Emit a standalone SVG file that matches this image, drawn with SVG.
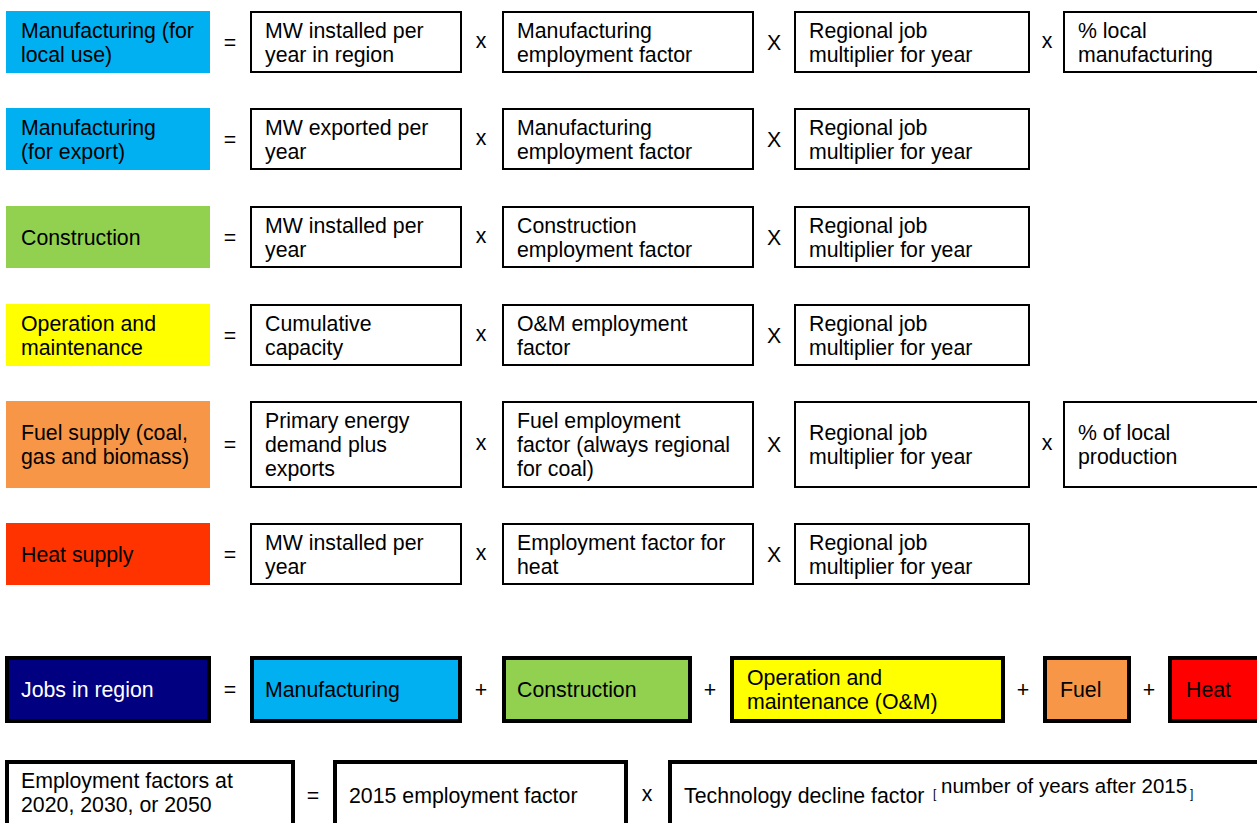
<svg xmlns="http://www.w3.org/2000/svg" width="1257" height="823" viewBox="0 0 1257 823">
  <style>
    .t { font-family: "Liberation Sans", Arial, sans-serif; font-size: 21.3px; fill: #000; }
    .w { fill: #fff; }
    .op { font-family: "Liberation Sans", Arial, sans-serif; font-size: 21.3px; fill: #000; text-anchor: middle; }
    .box { fill: #fff; stroke: #000; stroke-width: 2; }
    .bold { stroke: #000; stroke-width: 4; }
    .mfg { fill: #00B0F0; }
    .con { fill: #92D050; }
    .om { fill: #FFFF00; }
    .fuel { fill: #F79646; }
    .heatsup { fill: #FF3300; }
    .heat { fill: #FF0000; }
    .jobs { fill: #000080; }
  </style>
  <rect x="0" y="0" width="1257" height="823" fill="#fff"/>

  <!-- Row 1: manufacturing for local use -->
  <g id="mfg-local">
    <rect class="mfg" x="6" y="11" width="204" height="62"/>
    <text class="t"><tspan x="21" y="37.5">Manufacturing (for</tspan><tspan x="21" y="61.5">local use)</tspan></text>
  </g>
  <g id="mfg-local-mw">
    <rect class="box" x="251" y="12" width="210" height="60"/>
    <text class="t"><tspan x="265" y="37.5">MW installed per</tspan><tspan x="265" y="61.5">year in region</tspan></text>
  </g>
  <g id="mfg-local-factor">
    <rect class="box" x="503" y="12" width="250" height="60"/>
    <text class="t"><tspan x="517" y="37.5">Manufacturing</tspan><tspan x="517" y="61.5">employment factor</tspan></text>
  </g>
  <g id="mfg-local-mult">
    <rect class="box" x="795" y="12" width="234" height="60"/>
    <text class="t"><tspan x="809" y="37.5">Regional job</tspan><tspan x="809" y="61.5">multiplier for year</tspan></text>
  </g>
  <g id="mfg-local-share">
    <rect class="box" x="1064" y="12" width="210" height="60"/>
    <text class="t"><tspan x="1078" y="37.5">% local</tspan><tspan x="1078" y="61.5">manufacturing</tspan></text>
  </g>

  <!-- Row 2: manufacturing for export -->
  <g id="mfg-export">
    <rect class="mfg" x="6" y="108" width="204" height="62"/>
    <text class="t"><tspan x="21" y="134.5">Manufacturing</tspan><tspan x="21" y="158.5">(for export)</tspan></text>
  </g>
  <g id="mfg-export-mw">
    <rect class="box" x="251" y="109" width="210" height="60"/>
    <text class="t"><tspan x="265" y="134.5">MW exported per</tspan><tspan x="265" y="158.5">year</tspan></text>
  </g>
  <g id="mfg-export-factor">
    <rect class="box" x="503" y="109" width="250" height="60"/>
    <text class="t"><tspan x="517" y="134.5">Manufacturing</tspan><tspan x="517" y="158.5">employment factor</tspan></text>
  </g>
  <g id="mfg-export-mult">
    <rect class="box" x="795" y="109" width="234" height="60"/>
    <text class="t"><tspan x="809" y="134.5">Regional job</tspan><tspan x="809" y="158.5">multiplier for year</tspan></text>
  </g>

  <!-- Row 3: construction -->
  <g id="construction">
    <rect class="con" x="6" y="206" width="204" height="62"/>
    <text class="t" x="21" y="244.5">Construction</text>
  </g>
  <g id="construction-mw">
    <rect class="box" x="251" y="207" width="210" height="60"/>
    <text class="t"><tspan x="265" y="232.5">MW installed per</tspan><tspan x="265" y="256.5">year</tspan></text>
  </g>
  <g id="construction-factor">
    <rect class="box" x="503" y="207" width="250" height="60"/>
    <text class="t"><tspan x="517" y="232.5">Construction</tspan><tspan x="517" y="256.5">employment factor</tspan></text>
  </g>
  <g id="construction-mult">
    <rect class="box" x="795" y="207" width="234" height="60"/>
    <text class="t"><tspan x="809" y="232.5">Regional job</tspan><tspan x="809" y="256.5">multiplier for year</tspan></text>
  </g>

  <!-- Row 4: operation and maintenance -->
  <g id="om">
    <rect class="om" x="6" y="304" width="204" height="62"/>
    <text class="t"><tspan x="21" y="330.5">Operation and</tspan><tspan x="21" y="354.5">maintenance</tspan></text>
  </g>
  <g id="om-capacity">
    <rect class="box" x="251" y="305" width="210" height="60"/>
    <text class="t"><tspan x="265" y="330.5">Cumulative</tspan><tspan x="265" y="354.5">capacity</tspan></text>
  </g>
  <g id="om-factor">
    <rect class="box" x="503" y="305" width="250" height="60"/>
    <text class="t"><tspan x="517" y="330.5">O&amp;M employment</tspan><tspan x="517" y="354.5">factor</tspan></text>
  </g>
  <g id="om-mult">
    <rect class="box" x="795" y="305" width="234" height="60"/>
    <text class="t"><tspan x="809" y="330.5">Regional job</tspan><tspan x="809" y="354.5">multiplier for year</tspan></text>
  </g>

  <!-- Row 5: fuel supply -->
  <g id="fuel-supply">
    <rect class="fuel" x="6" y="401" width="204" height="87"/>
    <text class="t"><tspan x="21" y="440">Fuel supply (coal,</tspan><tspan x="21" y="464">gas and biomass)</tspan></text>
  </g>
  <g id="fuel-demand">
    <rect class="box" x="251" y="402" width="210" height="85"/>
    <text class="t"><tspan x="265" y="428">Primary energy</tspan><tspan x="265" y="452">demand plus</tspan><tspan x="265" y="476">exports</tspan></text>
  </g>
  <g id="fuel-factor">
    <rect class="box" x="503" y="402" width="250" height="85"/>
    <text class="t"><tspan x="517" y="428">Fuel employment</tspan><tspan x="517" y="452">factor (always regional</tspan><tspan x="517" y="476">for coal)</tspan></text>
  </g>
  <g id="fuel-mult">
    <rect class="box" x="795" y="402" width="234" height="85"/>
    <text class="t"><tspan x="809" y="440">Regional job</tspan><tspan x="809" y="464">multiplier for year</tspan></text>
  </g>
  <g id="fuel-share">
    <rect class="box" x="1064" y="402" width="210" height="85"/>
    <text class="t"><tspan x="1078" y="440">% of local</tspan><tspan x="1078" y="464">production</tspan></text>
  </g>

  <!-- Row 6: heat supply -->
  <g id="heat-supply">
    <rect class="heatsup" x="6" y="523" width="204" height="62"/>
    <text class="t" x="21" y="561.5">Heat supply</text>
  </g>
  <g id="heat-mw">
    <rect class="box" x="251" y="524" width="210" height="60"/>
    <text class="t"><tspan x="265" y="549.5">MW installed per</tspan><tspan x="265" y="573.5">year</tspan></text>
  </g>
  <g id="heat-factor">
    <rect class="box" x="503" y="524" width="250" height="60"/>
    <text class="t"><tspan x="517" y="549.5">Employment factor for</tspan><tspan x="517" y="573.5">heat</tspan></text>
  </g>
  <g id="heat-mult">
    <rect class="box" x="795" y="524" width="234" height="60"/>
    <text class="t"><tspan x="809" y="549.5">Regional job</tspan><tspan x="809" y="573.5">multiplier for year</tspan></text>
  </g>

  <!-- Total jobs -->
  <g id="jobs">
    <rect class="bold jobs" x="7" y="658" width="202" height="63"/>
    <text class="t w" x="21" y="697">Jobs in region</text>
  </g>
  <g id="jobs-mfg">
    <rect class="bold mfg" x="252" y="658" width="208" height="63"/>
    <text class="t" x="265" y="697">Manufacturing</text>
  </g>
  <g id="jobs-con">
    <rect class="bold con" x="504" y="658" width="186" height="63"/>
    <text class="t" x="517" y="697">Construction</text>
  </g>
  <g id="jobs-om">
    <rect class="bold om" x="732" y="658" width="271" height="63"/>
    <text class="t"><tspan x="747" y="685">Operation and</tspan><tspan x="747" y="709">maintenance (O&amp;M)</tspan></text>
  </g>
  <g id="jobs-fuel">
    <rect class="bold fuel" x="1045" y="658" width="84" height="63"/>
    <text class="t" x="1060" y="697">Fuel</text>
  </g>
  <g id="jobs-heat">
    <rect class="bold heat" x="1170" y="658" width="110" height="63"/>
    <text class="t" x="1186" y="697">Heat</text>
  </g>

  <!-- Employment factor projection -->
  <g id="ef-year">
    <rect class="bold" fill="#fff" x="7" y="762" width="286" height="80"/>
    <text class="t"><tspan x="21" y="788">Employment factors at</tspan><tspan x="21" y="812">2020, 2030, or 2050</tspan></text>
  </g>
  <g id="ef-2015">
    <rect class="bold" fill="#fff" x="335" y="762" width="291" height="80"/>
    <text class="t" x="349" y="802.5">2015 employment factor</text>
  </g>
  <g id="ef-decline">
    <rect class="bold" fill="#fff" x="670" y="762" width="620" height="80"/>
    <text class="t" x="684" y="802.5">Technology decline factor </text>
    <text class="t" x="933" y="798" style="font-size:12px">[</text>
    <text class="t" x="941" y="793" style="font-size:20.5px">number of years after 2015</text>
    <text class="t" x="1190" y="798" style="font-size:12px">]</text>
  </g>

  <!-- Operators between the terms -->
  <g id="connectors">
    <text class="op" x="230" y="49.5">=</text>
    <text class="op" x="481" y="47.5">x</text>
    <text class="op" x="774" y="49.5">X</text>
    <text class="op" x="1047" y="47.5">x</text>

    <text class="op" x="230" y="146.5">=</text>
    <text class="op" x="481" y="144.5">x</text>
    <text class="op" x="774" y="146.5">X</text>

    <text class="op" x="230" y="244.5">=</text>
    <text class="op" x="481" y="242.5">x</text>
    <text class="op" x="774" y="244.5">X</text>

    <text class="op" x="230" y="342.5">=</text>
    <text class="op" x="481" y="340.5">x</text>
    <text class="op" x="774" y="342.5">X</text>

    <text class="op" x="230" y="452">=</text>
    <text class="op" x="481" y="450">x</text>
    <text class="op" x="774" y="452">X</text>
    <text class="op" x="1047" y="450">x</text>

    <text class="op" x="230" y="561.5">=</text>
    <text class="op" x="481" y="559.5">x</text>
    <text class="op" x="774" y="561.5">X</text>

    <text class="op" x="230" y="697">=</text>
    <text class="op" x="481" y="697">+</text>
    <text class="op" x="710" y="697">+</text>
    <text class="op" x="1023" y="697">+</text>
    <text class="op" x="1149" y="697">+</text>

    <text class="op" x="313" y="802.5">=</text>
    <text class="op" x="647" y="800.5">x</text>
  </g>
</svg>
